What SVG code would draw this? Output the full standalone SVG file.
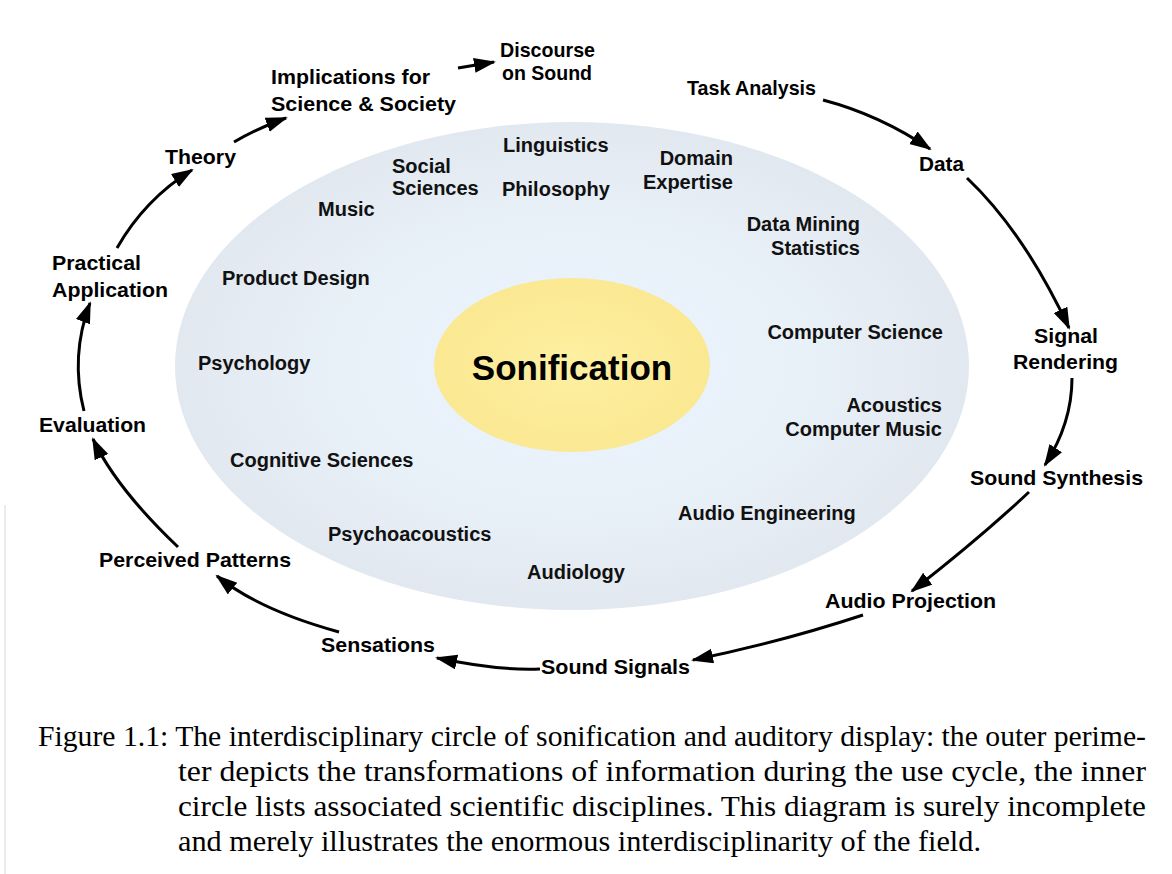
<svg xmlns="http://www.w3.org/2000/svg" width="1172" height="874" viewBox="0 0 1172 874">
<defs>
<radialGradient id="gBlue" cx="0.5" cy="0.5" r="0.5">
<stop offset="0" stop-color="#ebf4fd"/>
<stop offset="0.6" stop-color="#e8f0f8"/>
<stop offset="1" stop-color="#e2e8ef"/>
</radialGradient>
<radialGradient id="gYellow" cx="0.5" cy="0.5" r="0.5">
<stop offset="0" stop-color="#fdf0a2"/>
<stop offset="1" stop-color="#fbe892"/>
</radialGradient>
<marker id="ah" markerUnits="userSpaceOnUse" markerWidth="24" markerHeight="17" refX="20" refY="7.5" orient="auto">
<path d="M0,0 L22,7.5 L0,15 z" fill="#000"/>
</marker>
</defs>
<style>
.o{font-family:"Liberation Sans",Arial,Helvetica,sans-serif;font-weight:bold;font-size:21px;fill:#000}
.i{font-family:"Liberation Sans",Arial,Helvetica,sans-serif;font-weight:bold;font-size:20px;fill:#111}
.c{font-family:"Liberation Serif","Times New Roman",serif;font-size:29px;fill:#000}
.a{fill:none;stroke:#000;stroke-width:3;marker-end:url(#ah)}
</style>
<rect width="1172" height="874" fill="#fff"/>
<line x1="5" y1="505" x2="5" y2="874" stroke="#ececec" stroke-width="2"/>

<g id="disciplines-ellipse">
<ellipse cx="572" cy="366" rx="397" ry="244" fill="url(#gBlue)"/>
</g>
<g id="sonification">
<ellipse cx="572" cy="365" rx="138" ry="87" fill="url(#gYellow)"/>
<text x="572" y="380" text-anchor="middle" font-family="Liberation Sans,Arial,sans-serif" font-weight="bold" font-size="35" fill="#000">Sonification</text>
</g>

<g id="connectors">
<path class="a" d="M458,68 L494,62"/>
<path class="a" d="M234,142 Q258,128 286,118"/>
<path class="a" d="M117,248 Q145,199 192,170"/>
<path class="a" d="M84,411 Q70,356 90,303"/>
<path class="a" d="M178,547 Q116,488 93,439"/>
<path class="a" d="M339,632 Q259,610 217,576"/>
<path class="a" d="M540,669 Q500,671 437,658"/>
<path class="a" d="M863,615 Q781,642 693,660"/>
<path class="a" d="M1029,492 Q980,538 912,591"/>
<path class="a" d="M1072,378 Q1072,423 1045,465"/>
<path class="a" d="M967,178 Q1024,232 1069,328"/>
<path class="a" d="M823,100 Q880,115 930,149"/>
</g>

<g id="n-discourse"><text class="o" x="500" y="57" textLength="95" lengthAdjust="spacingAndGlyphs">Discourse</text><text class="o" x="502" y="80" textLength="90" lengthAdjust="spacingAndGlyphs">on Sound</text></g>
<g id="n-implications"><text class="o" x="271" y="84" textLength="159" lengthAdjust="spacingAndGlyphs">Implications for</text><text class="o" x="271" y="111" textLength="185" lengthAdjust="spacingAndGlyphs">Science &amp; Society</text></g>
<g id="n-task"><text class="o" x="687" y="95" textLength="129" lengthAdjust="spacingAndGlyphs">Task Analysis</text></g>
<g id="n-data"><text class="o" x="919" y="171" textLength="45" lengthAdjust="spacingAndGlyphs">Data</text></g>
<g id="n-signal"><text class="o" x="1034" y="343" textLength="64" lengthAdjust="spacingAndGlyphs">Signal</text><text class="o" x="1013" y="369" textLength="105" lengthAdjust="spacingAndGlyphs">Rendering</text></g>
<g id="n-synthesis"><text class="o" x="970" y="485" textLength="173" lengthAdjust="spacingAndGlyphs">Sound Synthesis</text></g>
<g id="n-projection"><text class="o" x="825" y="608" textLength="171" lengthAdjust="spacingAndGlyphs">Audio Projection</text></g>
<g id="n-signals"><text class="o" x="541" y="674" textLength="149" lengthAdjust="spacingAndGlyphs">Sound Signals</text></g>
<g id="n-sensations"><text class="o" x="321" y="652" textLength="114" lengthAdjust="spacingAndGlyphs">Sensations</text></g>
<g id="n-perceived"><text class="o" x="99" y="567" textLength="192" lengthAdjust="spacingAndGlyphs">Perceived Patterns</text></g>
<g id="n-evaluation"><text class="o" x="39" y="432" textLength="107" lengthAdjust="spacingAndGlyphs">Evaluation</text></g>
<g id="n-practical"><text class="o" x="52" y="270" textLength="89" lengthAdjust="spacingAndGlyphs">Practical</text><text class="o" x="52" y="297" textLength="116" lengthAdjust="spacingAndGlyphs">Application</text></g>
<g id="n-theory"><text class="o" x="165" y="164" textLength="71" lengthAdjust="spacingAndGlyphs">Theory</text></g>

<g id="d-linguistics"><text class="i" x="503" y="152">Linguistics</text></g>
<g id="d-social"><text class="i" x="392" y="173">Social</text><text class="i" x="392" y="195">Sciences</text></g>
<g id="d-philosophy"><text class="i" x="502" y="196">Philosophy</text></g>
<g id="d-domain"><text class="i" x="733" y="165" text-anchor="end">Domain</text><text class="i" x="733" y="189" text-anchor="end">Expertise</text></g>
<g id="d-music"><text class="i" x="318" y="216">Music</text></g>
<g id="d-datamining"><text class="i" x="860" y="231" text-anchor="end">Data Mining</text><text class="i" x="860" y="255" text-anchor="end">Statistics</text></g>
<g id="d-product"><text class="i" x="222" y="285">Product Design</text></g>
<g id="d-cs"><text class="i" x="943" y="339" text-anchor="end">Computer Science</text></g>
<g id="d-psychology"><text class="i" x="198" y="370">Psychology</text></g>
<g id="d-acoustics"><text class="i" x="942" y="412" text-anchor="end">Acoustics</text><text class="i" x="942" y="436" text-anchor="end">Computer Music</text></g>
<g id="d-cognitive"><text class="i" x="230" y="467">Cognitive Sciences</text></g>
<g id="d-audioeng"><text class="i" x="678" y="520">Audio Engineering</text></g>
<g id="d-psychoacoustics"><text class="i" x="328" y="541">Psychoacoustics</text></g>
<g id="d-audiology"><text class="i" x="527" y="579">Audiology</text></g>

<g id="caption">
<text class="c" x="38" y="746" textLength="1108" lengthAdjust="spacingAndGlyphs">Figure 1.1: The interdisciplinary circle of sonification and auditory display: the outer perime-</text>
<text class="c" x="178" y="781" textLength="968" lengthAdjust="spacingAndGlyphs">ter depicts the transformations of information during the use cycle, the inner</text>
<text class="c" x="178" y="816" textLength="968" lengthAdjust="spacingAndGlyphs">circle lists associated scientific disciplines. This diagram is surely incomplete</text>
<text class="c" x="178" y="851" textLength="803" lengthAdjust="spacingAndGlyphs">and merely illustrates the enormous interdisciplinarity of the field.</text>
</g>
</svg>
